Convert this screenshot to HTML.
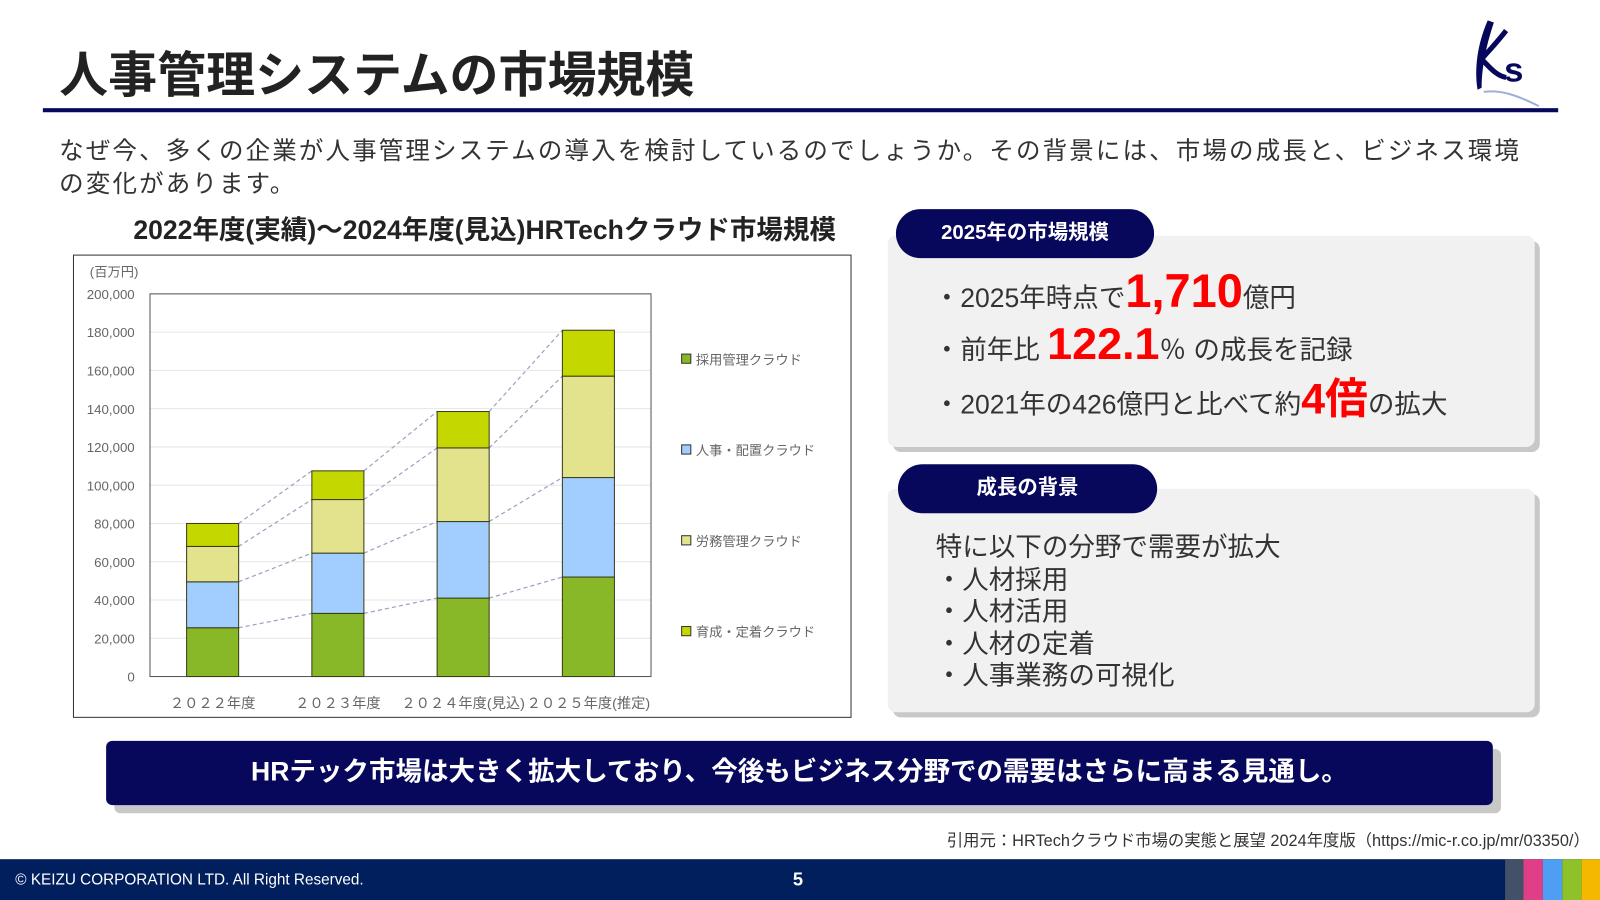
<!DOCTYPE html>
<html><head><meta charset="utf-8">
<style>
html,body{margin:0;padding:0;width:1600px;height:900px;overflow:hidden;background:#fff;}
#wrap{position:absolute;left:0;top:0;width:1568px;height:882px;transform:scale(1.020408);transform-origin:0 0;font-family:"Liberation Sans","Noto Sans CJK JP",sans-serif;color:#333;}
.abs{position:absolute;}
.panel{position:absolute;background:#f1f1f1;border-radius:8px;box-shadow:5px 5px 0 #c8c8c8;}
.pill{position:absolute;background:#07075c;color:#fff;border-radius:25px;font-weight:bold;font-size:20px;text-align:center;}
.red{color:#f00;font-weight:bold;}
.ln{position:absolute;left:915px;font-size:26px;white-space:nowrap;height:50px;line-height:50px;}
</style></head><body>
<div id="wrap">
<div class="abs" style="left:58px;top:34px;font-size:48px;font-weight:bold;color:#222;">人事管理システムの市場規模</div>
<svg class="abs" style="left:1436px;top:18px" width="80" height="90" viewBox="0 0 80 90">
<path d="M22 2 C14 20 8 45 12 70 L16 68 C16 45 22 22 28 4Z" fill="#07075c"/>
<path d="M40 12 C30 25 20 35 16 40 C24 48 30 56 40 58" stroke="#07075c" stroke-width="5" fill="none"/>
<text x="38" y="62" font-size="34" font-weight="bold" fill="#07075c" font-family="Liberation Sans">s</text>
<path d="M18 72 C35 70 50 75 72 86" stroke="#9fb0d8" stroke-width="2" fill="none"/>
</svg>
<div class="abs" style="left:42px;top:106px;width:1485px;height:4px;background:#07075c;"></div>
<div class="abs" style="left:58px;top:133px;width:1480px;font-size:24px;letter-spacing:2.1px;line-height:32px;color:#333;white-space:nowrap;">なぜ今、多くの企業が人事管理システムの導入を検討しているのでしょうか。その背景には、市場の成長と、ビジネス環境<br>の変化があります。</div>
<div class="abs" style="left:72px;top:205px;width:806px;text-align:center;font-size:26px;font-weight:bold;color:#222;">2022年度(実績)～2024年度(見込)HRTechクラウド市場規模</div>
<svg class="abs" id="chart" style="left:0;top:0" width="900" height="720"></svg>

<div class="panel" style="left:870px;top:231px;width:634px;height:207px;"></div>
<div class="pill" style="left:878px;top:205px;width:253px;height:48px;line-height:46px;">2025年の市場規模</div>
<div class="ln" style="top:260px;">・2025年時点で<span class="red" style="font-size:46px;">1,710</span>億円</div>
<div class="ln" style="top:313px;">・前年比 <span class="red" style="font-size:44px;">122.1</span>％ の成長を記録</div>
<div class="ln" style="top:366px;">・2021年の426億円と比べて約<span class="red" style="font-size:42px;">4倍</span>の拡大</div>

<div class="panel" style="left:870px;top:479px;width:634px;height:219px;"></div>
<div class="pill" style="left:880px;top:455px;width:254px;height:48px;line-height:46px;">成長の背景</div>
<div class="abs" style="left:917px;top:521px;font-size:26px;line-height:31.5px;white-space:nowrap;">特に以下の分野で需要が拡大<br>・人材採用<br>・人材活用<br>・人材の定着<br>・人事業務の可視化</div>

<div class="abs" style="left:112px;top:734px;width:1359px;height:63px;background:#c8c8c8;border-radius:6px;"></div>
<div class="abs" style="left:104px;top:726px;width:1359px;height:63px;background:#07075c;border-radius:6px;color:#fff;font-size:26px;font-weight:bold;text-align:center;line-height:61px;">HRテック市場は大きく拡大しており、今後もビジネス分野での需要はさらに高まる見通し。</div>

<div class="abs" style="right:10px;top:810px;font-size:16px;color:#333;">引用元：HRTechクラウド市場の実態と展望 2024年度版（https://mic-r.co.jp/mr/03350/）</div>

<div class="abs" style="left:0;top:842px;width:1568px;height:40px;background:#001f5c;"></div>
<div class="abs" style="left:15px;top:854px;font-size:15px;color:#fff;">© KEIZU CORPORATION LTD. All Right Reserved.</div>
<div class="abs" style="left:777px;top:852px;font-size:18px;font-weight:bold;color:#fff;">5</div>
<div class="abs" style="left:1475px;top:842px;width:18px;height:40px;background:#435168;"></div>
<div class="abs" style="left:1493px;top:842px;width:19px;height:40px;background:#df3f87;"></div>
<div class="abs" style="left:1512px;top:842px;width:19px;height:40px;background:#4e9ff3;"></div>
<div class="abs" style="left:1531px;top:842px;width:19px;height:40px;background:#8fc12a;"></div>
<div class="abs" style="left:1550px;top:842px;width:18px;height:40px;background:#f4b800;"></div>
</div>
<script>
const categories = ["２０２２年度","２０２３年度","２０２４年度(見込)","２０２５年度(推定)"];
const seriesNames = ["採用管理クラウド","人事・配置クラウド","労務管理クラウド","育成・定着クラウド"];
const s1 = [25500, 33000, 41000, 52000];
const s2 = [24000, 31500, 40000, 52000];
const s3 = [18500, 28000, 38500, 53000];
const s4 = [12000, 15000, 19000, 24000];
const yTicks = [0,20000,40000,60000,80000,100000,120000,140000,160000,180000,200000];
const yTickLabels = ["0","20,000","40,000","60,000","80,000","100,000","120,000","140,000","160,000","180,000","200,000"];

const NS="http://www.w3.org/2000/svg";
const svg=document.getElementById('chart');
const px0=147, px1=638, py0=663, py1=288, yMax=200000;
const y=v=>py0-(v/yMax)*(py0-py1);
const band=(px1-px0)/categories.length;
const xc=i=>px0+band*(i+0.5);
const bw=51;
const colors=["#88b828","#a2cdff","#e3e38d","#c4d800"];
function mk(t,a){const e=document.createElementNS(NS,t);for(const k in a)e.setAttribute(k,a[k]);svg.appendChild(e);return e;}
let e=mk('rect',{x:72,y:250,width:762,height:453,fill:'#fff',stroke:'#333','stroke-width':1});


yTicks.forEach((t,i)=>{
  if(t>0){const g=mk('line',{x1:px0,x2:px1,y1:y(t),y2:y(t),stroke:'#e6e6e6','stroke-width':1});
  
  }
  const l=mk('text',{x:132,y:y(t)+5,'text-anchor':'end','font-size':13,fill:'#666'});
  l.textContent=yTickLabels[i];
  
  
});
e=mk('rect',{x:px0,y:py1,width:px1-px0,height:py0-py1,fill:'none',stroke:'#555','stroke-width':1});


e=mk('text',{x:88,y:271,'font-size':13,fill:'#666'});
e.textContent='(百万円)';


const series=[s1,s2,s3,s4];
const cum=categories.map((c,i)=>{let a=[0];let s=0;series.forEach(sr=>{s+=sr[i];a.push(s);});return a;});
for(let i=0;i<categories.length-1;i++){
  for(let k=1;k<=4;k++){
    const ln=mk('line',{x1:xc(i)+bw/2,y1:y(cum[i][k]),x2:xc(i+1)-bw/2,y2:y(cum[i+1][k]),stroke:'#98a4c0','stroke-width':1.2,'stroke-dasharray':'4,3'});
    
    
  }
}
categories.forEach((c,i)=>{
  series.forEach((sr,k)=>{
    const r=mk('rect',{x:xc(i)-bw/2,y:y(cum[i][k+1]),width:bw,height:y(cum[i][k])-y(cum[i][k+1]),fill:colors[k],stroke:'#3a3a1a','stroke-width':1});
    
    
  });
  const t=mk('text',{x:xc(i),y:694,'text-anchor':'middle','font-size':14,fill:'#666'});
  t.textContent=c;
  
  
});
const legendY=[352,441,530,619];
seriesNames.forEach((n,k)=>{
  const r=mk('rect',{x:668,y:legendY[k]-5,width:9,height:9,fill:colors[k],stroke:'#333','stroke-width':1});
  
  
  const t=mk('text',{x:682,y:legendY[k]+5,'font-size':13,fill:'#666'});
  t.textContent=n;
  
  
});
</script>
</body></html>
